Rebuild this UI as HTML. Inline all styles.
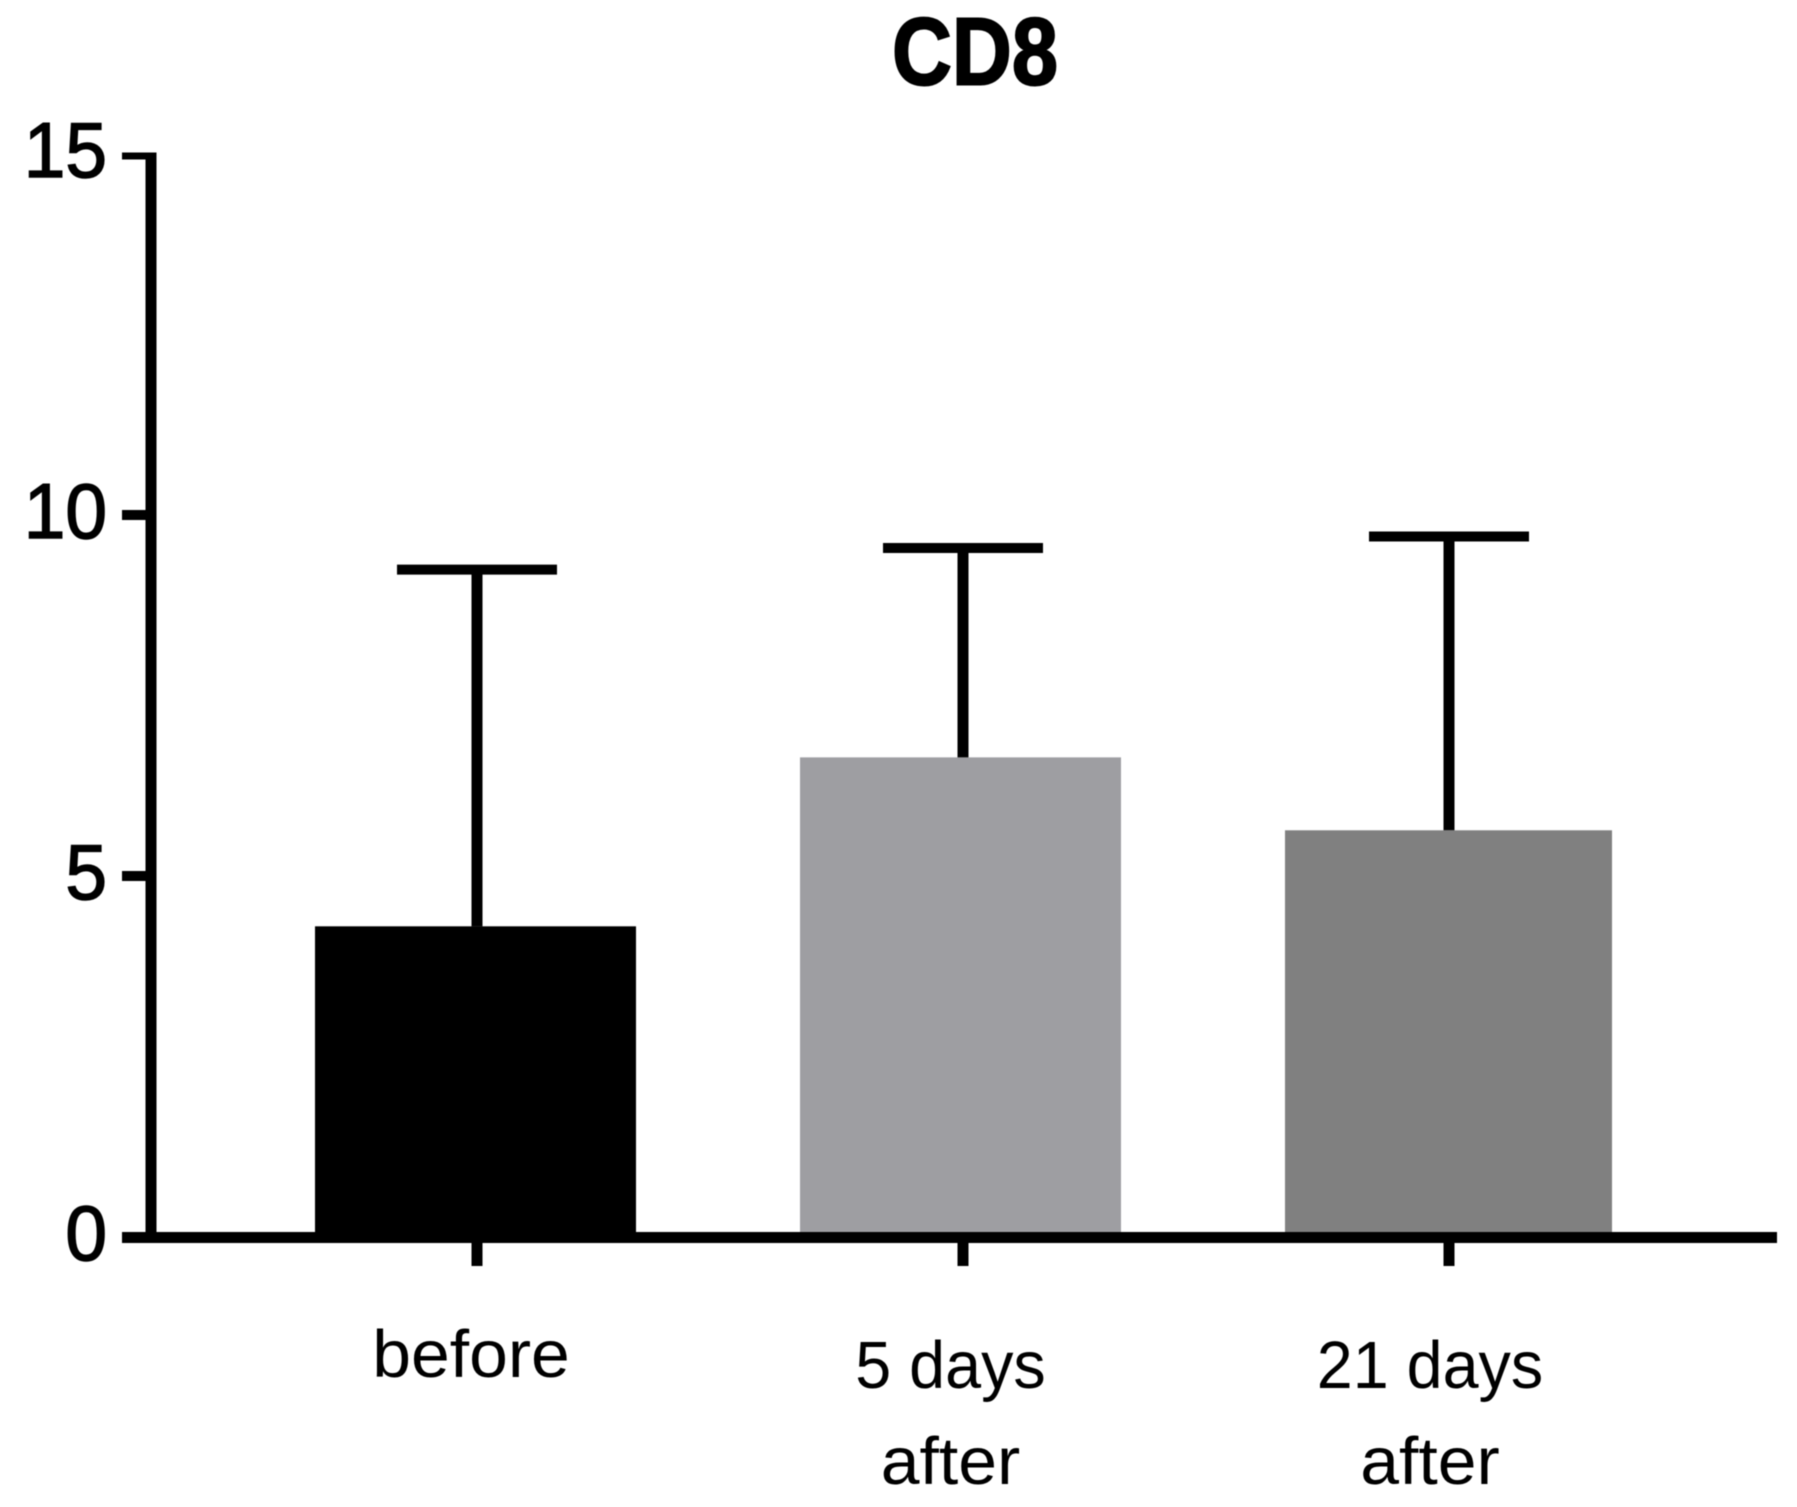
<!DOCTYPE html>
<html lang="en">
<head>
<meta charset="utf-8">
<title>CD8</title>
<style>
html,body{margin:0;padding:0;background:#fff;}
body{width:1797px;height:1507px;overflow:hidden;}
svg{display:block;filter:blur(0.6px);}
text{fill:#000;}
.num{font-family:"Liberation Sans",sans-serif;font-size:78px;stroke:#000;stroke-width:1.5px;}
.cat{font-family:"Liberation Sans",sans-serif;font-size:67px;}
.ttl{font-family:"Liberation Sans",sans-serif;font-size:96px;font-weight:bold;stroke:#000;stroke-width:2px;}
</style>
</head>
<body>
<svg id="chart" xmlns="http://www.w3.org/2000/svg" width="1797" height="1507" viewBox="0 0 1797 1507">
  <rect x="0" y="0" width="1797" height="1507" fill="#ffffff"/>
  <text class="ttl" x="892" y="84.5" textLength="166" lengthAdjust="spacingAndGlyphs">CD8</text>
  <g id="bars"></g>
  <g id="errors"></g>
  <g id="axes"></g>
  <g id="ylabels"></g>
  <g id="xlabels"></g>
</svg>
<script>
const categories = [["before"], ["5 days", "after"], ["21 days", "after"]];
const means = [4.31, 6.65, 5.64];
const errorTops = [9.25, 9.55, 9.71];
const yTicks = [0, 5, 10, 15];
const barColors = ["#000000", "#9e9ea2", "#808080"];

const SVG_NS = "http://www.w3.org/2000/svg";
const y = function (v) { return 1237.5 - v * 72.2; };
const x = function (i) { return 477 + 486 * i; };
const labelX = function (i) { return 471 + 479.5 * i; };
const barLeft = function (i) { return 315 + 485 * i; };
const barWidth = function (i) { return i === 2 ? 327 : 321; };

function mk(tag, parent, attrs) {
  const el = document.createElementNS(SVG_NS, tag);
  Object.keys(attrs).forEach(function (k) { el.setAttribute(k, attrs[k]); });
  parent.appendChild(el);
  return el;
}

const barsG = document.getElementById("bars");
const errorsG = document.getElementById("errors");
const axesG = document.getElementById("axes");
const ylabelsG = document.getElementById("ylabels");
const xlabelsG = document.getElementById("xlabels");

means.forEach(function (m, i) {
  const r = mk("rect", barsG, { x: barLeft(i), y: y(m), width: barWidth(i), height: y(0) - y(m), fill: barColors[i] });
  
  
});

const capWidth = 160;
errorTops.forEach(function (t, i) {
  const stem = mk("line", errorsG, { x1: x(i), x2: x(i), y1: y(t), y2: y(means[i]), stroke: "#000", "stroke-width": 11 });
  
  
  const cap = mk("line", errorsG, { x1: x(i) - capWidth / 2, x2: x(i) + capWidth / 2, y1: y(t), y2: y(t), stroke: "#000", "stroke-width": 10 });
  
  
});

const yMax = yTicks[yTicks.length - 1];

const yAxisLine = mk("line", axesG, { x1: 151, x2: 151, y1: y(yMax) - 2, y2: y(0), stroke: "#000", "stroke-width": 11 });



const xAxisLine = mk("line", axesG, { x1: 122, x2: 1777, y1: y(0), y2: y(0), stroke: "#000", "stroke-width": 11 });



yTicks.forEach(function (v) {
  const isTop = v === yMax;
  const tickY = isTop ? y(v) + 1.5 : y(v) - 0.5;
  const tick = mk("line", axesG, { x1: 122, x2: 150, y1: tickY, y2: tickY, stroke: "#000", "stroke-width": isTop ? 7 : 10 });
  
  
  const label = mk("text", ylabelsG, { class: "num", x: 107, y: y(v) + 22.5, "text-anchor": "end" });
  
  
  label.textContent = String(v);
  label.setAttribute("textLength", label.getComputedTextLength() * 0.96);
  label.setAttribute("lengthAdjust", "spacingAndGlyphs");
});

categories.forEach(function (lines, i) {
  const tick = mk("line", axesG, { x1: x(i), x2: x(i), y1: y(0), y2: 1266, stroke: "#000", "stroke-width": 11 });
  
  
  lines.forEach(function (line, j) {
    const baseline = lines.length === 1 ? 1377 : 1388 + j * 96;
    const label = mk("text", xlabelsG, { class: "cat", x: labelX(i), y: baseline, "text-anchor": "middle" });
    
    
    label.textContent = line;
    const fit = line.indexOf("days") >= 0 ? 0.965 : 1.04;
    label.setAttribute("textLength", label.getComputedTextLength() * fit);
    label.setAttribute("lengthAdjust", "spacingAndGlyphs");
  });
});
</script>
</body>
</html>
